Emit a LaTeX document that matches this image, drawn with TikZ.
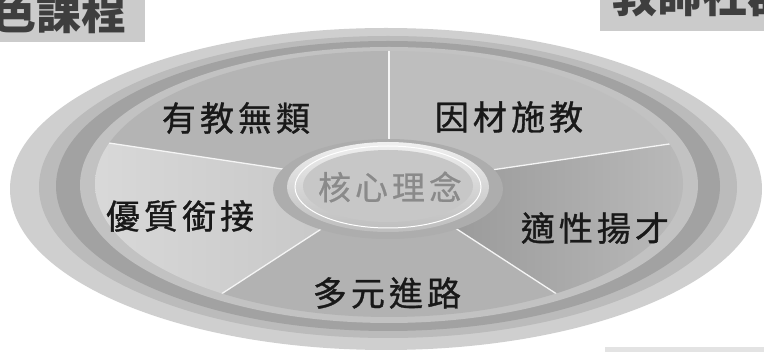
\documentclass[tikz,border=0pt]{standalone}
\usepackage{fontspec}
\newfontfamily\cjk{Noto Sans CJK TC}
\newfontfamily\cjkls[LetterSpace=12,FakeBold=1]{Noto Sans CJK TC}
\newfontfamily\cjkcore[LetterSpace=12,FakeBold=0.6]{Noto Sans CJK TC}
\definecolor{bandA}{HTML}{CFCFCF}
\definecolor{bandB}{HTML}{BBBBBB}
\definecolor{bandC}{HTML}{A2A2A2}
\definecolor{bandD}{HTML}{C2C2C2}
\definecolor{secTL}{HTML}{B4B4B4}
\definecolor{secTR}{HTML}{BEBEBE}
\definecolor{secB}{HTML}{B2B2B2}
\definecolor{boxgray}{HTML}{CBCBCB}
\definecolor{boxtext}{HTML}{3E3E3E}
\definecolor{coretext}{HTML}{8A8A8A}
\begin{document}
\begin{tikzpicture}[x=1pt,y=-1pt,
  lbl/.style={font=\cjkls\fontsize{34}{34}\selectfont, text=black!90, inner sep=0pt},
  corelbl/.style={font=\cjkcore\fontsize{33}{33}\selectfont, text=coretext, inner sep=0pt},
  boxlbl/.style={font=\cjk\bfseries\fontsize{45}{45}\selectfont, text=boxtext, inner sep=0pt},
  divider/.style={draw=white!96!black, line width=1.3pt},
]
\useasboundingbox (0,0) rectangle (764,352);
\fill[white] (0,0) rectangle (764,352);

% corner boxes
\begin{scope}
  \clip (0,0) rectangle (145,42);
  \fill[boxgray] (0,0) rectangle (145,42);
  \node[boxlbl, anchor=east] (lefttitle) at (127,12) {色課程};
\end{scope}
\begin{scope}
  \clip (600,0) rectangle (764,31);
  \fill[boxgray] (600,0) rectangle (764,31);
  \node[boxlbl, anchor=west] (righttitle) at (612,-5) {教師社群};
\end{scope}
\fill[gray!22] (605,347) rectangle (764,352);

% outer bands
\fill[bandA] (386,189) ellipse [x radius=376pt, y radius=161pt];
\fill[bandB] (388,187) ellipse [x radius=349pt, y radius=151pt];
\fill[bandC] (388,186) ellipse [x radius=332pt, y radius=145pt];
\fill[bandD] (389,185) ellipse [x radius=309pt, y radius=138pt];

% pie sectors
\coordinate (P) at (389,185);
\begin{scope}
  \clip (389,184) ellipse [x radius=294pt, y radius=133pt];
  \fill[secTL] (P) -- (-411,65) -- (-411,-300) -- (389,-300) -- cycle;
  \fill[secTR] (P) -- (389,-300) -- (1209,-300) -- (1209,65) -- cycle;
  \fill[secB] (P) -- (889,510) -- (-111,510) -- cycle;
  \begin{scope}
    \clip (P) -- (1209,65) -- (1209,510) -- (889,510) -- cycle;
    \shade[left color=black!40, right color=black!27] (440,40) rectangle (690,330);
  \end{scope}
  \begin{scope}
    \clip (P) -- (-111,510) -- (-411,510) -- (-411,65) -- cycle;
    \shade[left color=black!15, right color=black!22] (90,100) rectangle (340,330);
  \end{scope}
  \draw[divider] (P) -- (389,-300);
  \draw[divider] (P) -- (1209,65);
  \draw[divider] (P) -- (889,510);
  \draw[divider] (P) -- (-111,510);
  \draw[divider] (P) -- (-411,65);
\end{scope}

% core ellipse
\fill[black!32] (388,189) ellipse [x radius=115pt, y radius=50pt];
\shade[top color=black!6, bottom color=black!26] (388,187) ellipse [x radius=101pt, y radius=45pt];
\draw[white, line width=1pt] (388,187) ellipse [x radius=93pt, y radius=41pt];
\fill[black!22] (388,186) ellipse [x radius=85pt, y radius=36pt];

% labels
\node[corelbl] (core) at (390,187) {核心理念};
\node[lbl] (a) at (236,118) {有教無類};
\node[lbl] (b) at (509,117) {因材施教};
\node[lbl] (c) at (180,216) {優質銜接};
\node[lbl] (d) at (595,228) {適性揚才};
\node[lbl] (e) at (387,293) {多元進路};
\end{tikzpicture}
\end{document}
